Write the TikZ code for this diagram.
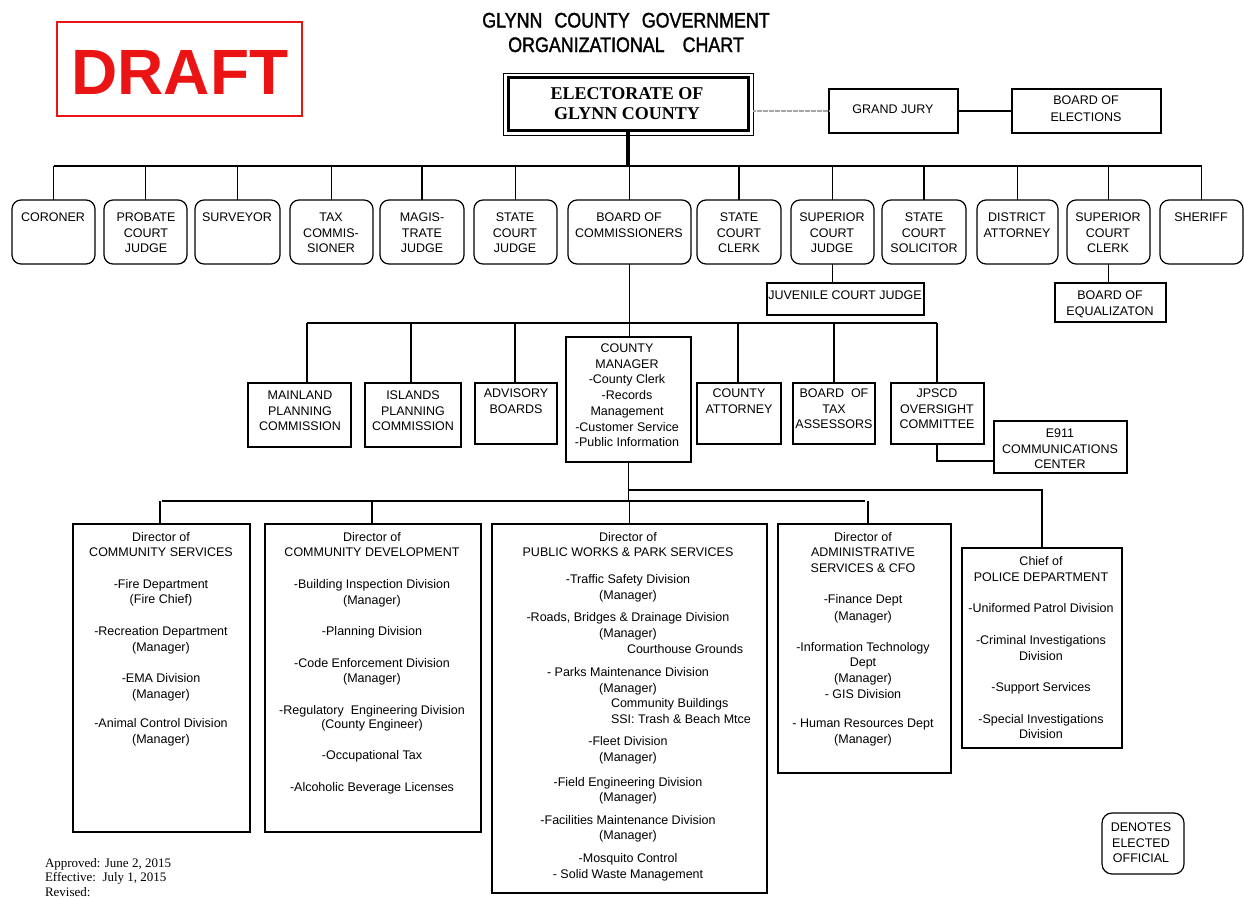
\documentclass[tikz,border=0pt]{standalone}
\usepackage{fontspec}
\setmainfont{Liberation Sans}
\newfontfamily\serifface{Liberation Serif}
\newfontfamily\titleface[FakeStretch=0.85,FakeBold=1.5]{Liberation Sans}
\definecolor{draftred}{RGB}{235,20,20}
\tikzset{
  every node/.style={inner sep=0pt, outer sep=0pt},
  rbox/.style={draw, line width=1.2pt, rounded corners=9pt},
  sbox/.style={draw, line width=1.2pt},
  conn/.style={line width=1.4pt},
  txt/.style={anchor=base, font=\fontsize{12.5}{15}\selectfont},
}
\newcommand{\mkbox}[6]{%
  \pgfmathsetmacro\mkbw{#5-#3}\pgfmathsetmacro\mkbh{#6-#4}%
  \node[#2, minimum width=\mkbw pt, minimum height=\mkbh pt] (#1) at ({(#3+#5)/2},{(#4+#6)/2}) {};}
\newcommand{\mklines}[5]{%
  \foreach \tx [count=\nn] in {#5} {\node[txt] (#1-\nn) at (#2, {#3+4.5+(\nn-1)*#4}) {\tx};}}
\newcommand{\mkylines}[3]{%
  \foreach \yy/\tx [count=\nn] in {#3} {\node[txt] (#1-\nn) at (#2, {\yy+4.5}) {\tx};}}
\begin{document}
\begin{tikzpicture}[x=1pt,y=-1pt]
\useasboundingbox (0,0) rectangle (1244,897);

% DRAFT
\mkbox{draftbox}{draw=draftred, line width=2pt}{57}{22}{302}{116}
\node[text=draftred, font=\fontsize{64}{64}\bfseries\selectfont, anchor=base] (draft) at (180,94) {DRAFT};

% Title
\node[font=\titleface\fontsize{21}{21}\selectfont, anchor=base] (title1) at (626,27.5) {GLYNN\hspace{12pt}COUNTY\hspace{12pt}GOVERNMENT};
\node[font=\titleface\fontsize{21}{21}\selectfont, anchor=base] (title2) at (626,52) {ORGANIZATIONAL\hspace{18pt}CHART};

% Electorate
\mkbox{electO}{draw, line width=1pt}{503}{73}{753}{135}
\mkbox{electI}{draw, line width=3pt}{508}{77}{748}{130}
\node[font=\serifface\fontsize{18}{18}\bfseries\selectfont, anchor=base] (el1) at (627,99) {ELECTORATE OF};
\node[font=\serifface\fontsize{18}{18}\bfseries\selectfont, anchor=base] (el2) at (627,119) {GLYNN COUNTY};

% Grand jury, board of elections
\mkbox{gj}{sbox}{829}{89}{958}{133}
\mkbox{boe}{sbox}{1012}{89}{1161}{133}
\mklines{gjt}{893}{109}{15.6}{GRAND JURY}
\mklines{boet}{1086}{100}{17}{BOARD OF, ELECTIONS}
\draw[gray!70, line width=1.6pt, dash pattern=on 0.8pt off 0.4pt] (electO.east |- gj.west) -- (gj.west);
\draw[conn] (gj.east) -- (boe.west);

% Top row
\mkbox{coroner}{rbox}{12}{200}{95}{264}
\mkbox{probate}{rbox}{104}{200}{187}{264}
\mkbox{surveyor}{rbox}{195}{200}{280}{264}
\mkbox{taxc}{rbox}{290}{200}{373}{264}
\mkbox{magis}{rbox}{380}{200}{464}{264}
\mkbox{stcj}{rbox}{474}{200}{557}{264}
\mkbox{boc}{rbox}{568}{200}{691}{264}
\mkbox{stcc}{rbox}{697}{200}{781}{264}
\mkbox{supj}{rbox}{791}{200}{874}{264}
\mkbox{stcs}{rbox}{882}{200}{966}{264}
\mkbox{da}{rbox}{977}{200}{1058}{264}
\mkbox{supc}{rbox}{1067}{200}{1150}{264}
\mkbox{sheriff}{rbox}{1160}{200}{1243}{264}

\mklines{coronert}{53}{217}{15.6}{CORONER}
\mklines{probatet}{146}{217}{15.6}{PROBATE, COURT, JUDGE}
\mklines{surveyort}{237}{217}{15.6}{SURVEYOR}
\mklines{taxct}{331}{217}{15.6}{TAX, COMMIS-, SIONER}
\mklines{magist}{422}{217}{15.6}{MAGIS-, TRATE, JUDGE}
\mklines{stcjt}{515}{217}{15.6}{STATE, COURT, JUDGE}
\mklines{boct}{629}{217}{15.6}{BOARD OF, COMMISSIONERS}
\mklines{stcct}{739}{217}{15.6}{STATE, COURT, CLERK}
\mklines{supjt}{832}{217}{15.6}{SUPERIOR, COURT, JUDGE}
\mklines{stcst}{924}{217}{15.6}{STATE, COURT, SOLICITOR}
\mklines{dat}{1017}{217}{15.6}{DISTRICT, ATTORNEY}
\mklines{supct}{1108}{217}{15.6}{SUPERIOR, COURT, CLERK}
\mklines{sherifft}{1201}{217}{15.6}{SHERIFF}

\coordinate (bus1) at (629,166);
\draw[conn] (coroner.north |- bus1) -- (sheriff.north |- bus1);
\foreach \bn in {coroner,probate,surveyor,taxc,magis,stcj,boc,stcc,supj,stcs,da,supc,sheriff}
  \draw[conn] (\bn.north) -- (\bn.north |- bus1);
\draw[line width=3.2pt] (electI.south) -- (electI.south |- bus1);

% Juvenile court judge, board of equalization
\mkbox{juv}{sbox}{767}{283}{924}{315}
\mklines{juvt}{845}{295}{15.6}{JUVENILE COURT JUDGE}
\mkbox{equal}{sbox}{1055}{283}{1166}{322}
\mklines{equalt}{1110}{295}{15.6}{BOARD OF, EQUALIZATON}
\draw[conn] (supj.south) -- (supj.south |- juv.north);
\draw[conn] (supc.south) -- (supc.south |- equal.north);

% Middle row
\mkbox{mainland}{sbox}{248}{383}{351}{447}
\mkbox{islands}{sbox}{365}{383}{461}{447}
\mkbox{advisory}{sbox}{475}{383}{557}{444}
\mkbox{cm}{sbox}{566}{337}{691}{462}
\mkbox{ca}{sbox}{697}{383}{781}{444}
\mkbox{bta}{sbox}{793}{383}{875}{444}
\mkbox{jpscd}{sbox}{891}{383}{984}{444}
\mkbox{e911}{sbox}{994}{421}{1127}{473}

\mklines{mainlandt}{300}{395}{15.6}{MAINLAND, PLANNING, COMMISSION}
\mklines{islandst}{413}{395}{15.6}{ISLANDS, PLANNING, COMMISSION}
\mklines{advisoryt}{516}{393}{15.6}{ADVISORY, BOARDS}
\mklines{cmt}{627}{348}{15.7}{COUNTY, MANAGER, -County Clerk, -Records, Management, -Customer Service, -Public Information}
\mklines{cat}{739}{393}{15.6}{COUNTY, ATTORNEY}
\mklines{btat}{834}{393}{15.6}{BOARD\ \ OF, TAX, ASSESSORS}
\mklines{jpscdt}{937}{393}{15.6}{JPSCD, OVERSIGHT, COMMITTEE}
\mklines{e911t}{1060}{433}{15.6}{E911, COMMUNICATIONS, CENTER}

\coordinate (bus2) at (629,323);
\coordinate (d2a) at (307,323);
\coordinate (d2b) at (411,323);
\coordinate (d2c) at (515,323);
\coordinate (d2d) at (738,323);
\coordinate (d2e) at (834,323);
\coordinate (d2f) at (937,323);
\draw[conn] (d2a) -- (d2f);
\draw[conn] (boc.south) -- (boc.south |- cm.north);
\draw[conn] (d2a) -- (d2a |- mainland.north);
\draw[conn] (d2b) -- (d2b |- islands.north);
\draw[conn] (d2c) -- (d2c |- advisory.north);
\draw[conn] (d2d) -- (d2d |- ca.north);
\draw[conn] (d2e) -- (d2e |- bta.north);
\draw[conn] (d2f) -- (d2f |- jpscd.north);
\coordinate (jd) at (937,461);
\draw[conn] (jd |- jpscd.south) -- (jd) -- (jd -| e911.west);

% Bottom boxes
\mkbox{cs}{sbox}{73}{524}{250}{832}
\mkbox{cd}{sbox}{265}{524}{481}{832}
\mkbox{pw}{sbox}{492}{524}{767}{893}
\mkbox{adm}{sbox}{778}{524}{951}{773}
\mkbox{pol}{sbox}{962}{548}{1122}{748}

\mkylines{cst}{161}{537/{Director of}, 552/{COMMUNITY SERVICES}, 584/{-Fire Department}, 599/{(Fire Chief)}, 631/{-Recreation Department}, 647/{(Manager)}, 678/{-EMA Division}, 694/{(Manager)}, 723/{-Animal Control Division}, 739/{(Manager)}}

\mkylines{cdt}{372}{537/{Director of}, 552/{COMMUNITY DEVELOPMENT}, 584/{-Building Inspection Division}, 600/{(Manager)}, 631/{-Planning Division}, 663/{-Code Enforcement Division}, 678/{(Manager)}, 710/{-Regulatory\ \ Engineering Division}, 724/{(County Engineer)}, 755/{-Occupational Tax}, 787/{-Alcoholic Beverage Licenses}}

\mkylines{pwt}{628}{537/{Director of}, 552/{PUBLIC WORKS \& PARK SERVICES}, 579/{-Traffic Safety Division}, 595/{(Manager)}, 617/{-Roads, Bridges \& Drainage Division}, 633/{(Manager)}, 672/{- Parks Maintenance Division}, 688/{(Manager)}, 741/{-Fleet Division}, 757/{(Manager)}, 782/{-Field Engineering Division}, 797/{(Manager)}, 820/{-Facilities Maintenance Division}, 835/{(Manager)}, 858/{-Mosquito Control}, 874/{- Solid Waste Management}}
\node[txt, anchor=base west] (pwcg) at (627,653.5) {Courthouse Grounds};
\node[txt, anchor=base west] (pwcb) at (611,707.5) {Community Buildings};
\node[txt, anchor=base west] (pwssi) at (611,723.5) {SSI: Trash \& Beach Mtce};

\mkylines{admt}{863}{537/{Director of}, 552/{ADMINISTRATIVE}, 568/{SERVICES \& CFO}, 599/{-Finance Dept}, 616/{(Manager)}, 647/{-Information Technology}, 662/{Dept}, 678/{(Manager)}, 694/{- GIS Division}, 723/{- Human Resources Dept}, 739/{(Manager)}}

\mkylines{polt}{1041}{561/{Chief of}, 577/{POLICE DEPARTMENT}, 608/{-Uniformed Patrol Division}, 640/{-Criminal Investigations}, 656/{Division}, 687/{-Support Services}, 719/{-Special Investigations}, 734/{Division}}

\coordinate (bus3) at (629,501);
\coordinate (bus4) at (628,490);
\draw[conn] (cm.south) -- (cm.south |- bus3);
\draw[conn] (cs.north |- bus3) -- (adm.north |- bus3);
\coordinate (d3a) at (160,501);
\coordinate (d3b) at (372,501);
\coordinate (d3d) at (868,501);
\draw[conn] (d3a) -- (d3a |- cs.north);
\draw[conn] (d3b) -- (d3b |- cd.north);
\draw[conn] (pw.north |- bus3) -- (pw.north);
\draw[conn] (d3d) -- (d3d |- adm.north);
\draw[conn] (bus4) -- (bus4 -| pol.north) -- (pol.north);

% Legend
\mkbox{legend}{draw, line width=1.2pt, rounded corners=10pt}{1102}{813}{1184}{874}
\mklines{legendt}{1141}{827}{15.6}{DENOTES, ELECTED, OFFICIAL}

% Dates
\node[font=\serifface\fontsize{13}{13}\selectfont, anchor=base west] (appr) at (45,867) {Approved: June 2, 2015};
\node[font=\serifface\fontsize{13}{13}\selectfont, anchor=base west] (eff) at (45,881.5) {Effective:\ \ July 1, 2015};
\node[font=\serifface\fontsize{13}{13}\selectfont, anchor=base west] (rev) at (45,896) {Revised:};
\end{tikzpicture}
\end{document}
